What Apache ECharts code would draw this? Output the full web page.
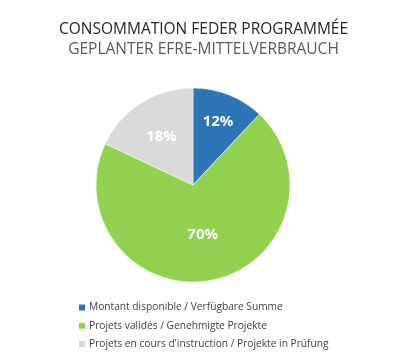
<!DOCTYPE html>
<html><head><meta charset="utf-8">
<script src="https://cdn.jsdelivr.net/npm/echarts@6/dist/echarts.min.js"></script>
<style>html,body{margin:0;padding:0;background:#fff}#c{width:407px;height:355px}</style>
</head><body><div id="c"></div>
<script>
const titleLine1 = 'CONSOMMATION FEDER PROGRAMMÉE';
const titleLine2 = 'GEPLANTER EFRE-MITTELVERBRAUCH';
const categories = ['Montant disponible / Verfügbare Summe', 'Projets validés / Genehmigte Projekte', "Projets en cours d'instruction / Projekte in Prüfung"];
const values = [12, 70, 18];
const colors = ['#2E75B6', '#92D050', '#D9D9D9'];
const labelShift = [[6, -15], [0, -1], [-4, -5]];

const chart = echarts.init(document.getElementById('c'), null, {renderer: 'canvas'});
chart.setOption({
  animation: false,
  title: [
    {text: titleLine1, left: 'center', top: 17, textStyle: {fontFamily: 'Open Sans', fontSize: 15.5, fontWeight: 'normal', color: '#262626'}},
    {text: titleLine2, left: 'center', top: 37, textStyle: {fontFamily: 'Open Sans', fontSize: 15.5, fontWeight: 'normal', color: '#595959'}}
  ],
  legend: {
    orient: 'vertical', left: 72, top: 297.5, itemWidth: 8, itemHeight: 8, itemGap: 8.3,
    icon: 'rect',
    textStyle: {fontFamily: 'Open Sans', fontSize: 10.2, color: '#404040', padding: [0,0,0,-2]},
    data: categories
  },
  series: [{
    type: 'pie', center: [193, 185], radius: 97, startAngle: 90, clockwise: true,
    avoidLabelOverlap: false,
    itemStyle: {borderColor: '#fff', borderWidth: 0.5},
    label: {show: true, position: 'inside', formatter: '{c}%', color: '#fff', fontFamily: 'Open Sans', fontWeight: 'bold', fontSize: 15},
    labelLayout: function (p) { const s = labelShift[p.dataIndex]; return {dx: s[0], dy: s[1]}; },
    data: categories.map((n, i) => ({name: n, value: values[i], itemStyle: {color: colors[i]}}))
  }]
});
</script></body></html>
